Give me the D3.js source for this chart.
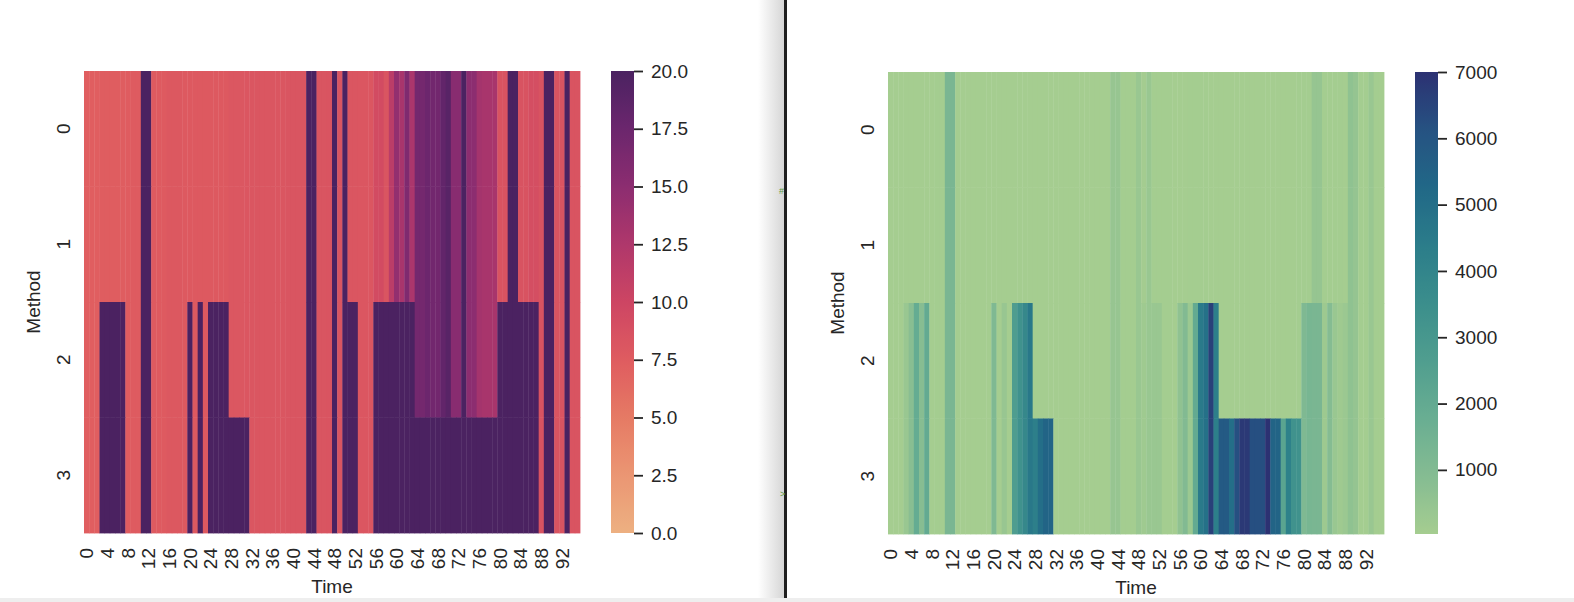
<!DOCTYPE html>
<html>
<head>
<meta charset="utf-8">
<script src="https://cdn.jsdelivr.net/npm/d3@7"></script>
<style>
  body { margin: 0; background: #fff; }
  svg { display: block; font-family: "Liberation Sans", Arial, sans-serif; }
</style>
</head>
<body>
<svg id="chart" width="1574" height="602"></svg>
<script>
// categories
var times = d3.range(96);
var methods = [0, 1, 2, 3];
var timeTicks = [0, 4, 8, 12, 16, 20, 24, 28, 32, 36, 40, 44, 48, 52, 56, 60, 64, 68, 72, 76, 80, 84, 88, 92];

// left heatmap values (one array per method)
var leftM0 = [7.3,7.3,7.3,7.4,7.4,7.4,7.4,7.4,7.5,7.6,7.6,20,20,7.7,7.7,7.7,
  7.9,7.9,7.9,7.8,7.8,7.8,7.8,7.8,7.8,7.8,7.8,7.8,8.0,8.0,8.0,8.1,
  8.2,8.2,8.2,8.2,8.2,8.2,8.2,8.3,8.3,8.3,8.3,20,20,8.3,8.3,8.4,
  20,8.3,20,8.2,8.2,8.1,8.1,8.1,9.3,9.3,8.3,11.5,14.5,13.0,16.0,12.8,
  16.8,16.8,17.4,17.0,17.0,18.2,19.0,15.3,15.3,20,15.0,15.0,13.3,13.0,13.0,13.0,
  8.5,8.5,20,20,8.5,8.5,9.0,9.0,8.5,20,20,8.4,8.4,20,8.4,8.4];
var leftM1 = [7.3,7.3,7.3,7.4,7.4,7.4,7.4,7.4,7.5,7.6,7.6,20,20,7.7,7.7,7.7,
  7.9,7.9,7.9,7.8,7.8,7.8,7.8,7.8,7.8,7.8,7.8,7.8,8.0,8.0,8.0,8.1,
  8.2,8.2,8.2,8.2,8.2,8.2,8.2,8.3,8.3,8.3,8.3,20,20,8.3,8.3,8.4,
  20,8.3,20,8.2,8.2,8.1,8.1,8.1,9.3,9.3,8.3,11.5,14.5,13.0,16.0,12.8,
  16.8,16.8,17.4,17.0,17.0,18.2,19.0,15.3,15.3,20,15.0,15.0,13.3,13.0,13.0,13.0,
  8.5,8.5,20,20,8.5,8.5,9.0,9.0,8.5,20,20,8.4,8.4,20,8.4,8.4];
var leftM2 = [7.3,7.3,7.3,20,20,20,20,20,7.5,7.6,7.6,20,20,7.7,7.7,7.7,
  7.9,7.9,7.9,7.8,20,7.8,20,7.8,20,20,20,20,8.0,8.0,8.0,8.1,
  8.2,8.2,8.2,8.2,8.2,8.2,8.2,8.3,8.3,8.3,8.3,20,20,8.3,8.3,8.4,
  20,8.3,20,20,20,8.1,8.1,8.1,20,20,20,20,20,20,20,20,
  16.8,16.8,17.4,17.0,17.0,18.2,19.0,15.3,15.3,20,15.0,15.0,13.3,13.0,13.0,13.0,
  20,20,20,20,20,20,20,20,8.5,20,20,8.4,8.4,20,8.4,8.4];
var leftM3 = [7.3,7.3,7.3,20,20,20,20,20,7.5,7.6,7.6,20,20,7.7,7.7,7.7,
  7.9,7.9,7.9,7.8,20,7.8,20,7.8,20,20,20,20,20,20,20,20,
  8.2,8.2,8.2,8.2,8.2,8.2,8.2,8.3,8.3,8.3,8.3,20,20,8.3,8.3,8.4,
  20,8.3,20,20,20,8.1,8.1,8.1,20,20,20,20,20,20,20,20,
  20,20,20,20,20,20,20,20,20,20,20,20,20,20,20,20,
  20,20,20,20,20,20,20,20,8.5,20,20,8.4,8.4,20,8.4,8.4];

// right heatmap values (one array per method)
var rightM0 = [45,42,40,38,40,42,40,38,45,48,50,1250,1250,44,40,38,
  36,35,37,40,42,40,38,40,42,45,44,40,38,36,35,33,
  36,38,40,42,44,40,38,36,38,40,42,420,420,50,48,50,
  350,60,350,55,52,50,48,45,44,46,48,50,52,48,46,44,
  42,40,38,40,42,44,46,44,42,40,38,40,42,44,46,48,
  50,52,450,450,55,52,50,48,46,620,480,50,52,350,48,46];
var rightM1 = [45,42,40,38,40,42,40,38,45,48,50,1250,1250,44,40,38,
  36,35,37,40,42,40,38,40,42,45,44,40,38,36,35,33,
  36,38,40,42,44,40,38,36,38,40,42,420,420,50,48,50,
  350,60,350,55,52,50,48,45,44,46,48,50,52,48,46,44,
  42,40,38,40,42,44,46,44,42,40,38,40,42,44,46,48,
  50,52,450,450,55,52,50,48,46,620,480,50,52,350,48,46];
var rightM2 = [45,42,40,350,800,1900,850,2000,45,48,50,1250,1250,44,40,38,
  36,35,37,40,1100,40,380,40,2700,3300,3800,4600,38,36,35,33,
  36,38,40,42,44,40,38,36,38,40,42,420,420,50,48,50,
  350,200,350,350,350,50,48,45,600,1000,300,2000,4500,4900,6600,4300,
  42,40,38,40,42,44,46,44,42,40,38,40,42,44,46,48,
  1100,1300,1250,1250,250,900,350,200,300,620,480,50,52,350,48,46];
var rightM3 = [45,42,40,350,800,1900,850,2000,45,48,50,1250,1250,44,40,38,
  36,35,37,40,1100,40,380,40,2700,3300,3800,4600,4300,5000,5400,5400,
  36,38,40,42,44,40,38,36,38,40,42,420,420,50,48,50,
  350,200,350,350,350,50,48,45,600,1000,300,2000,4500,4900,6600,4300,
  5800,5800,5000,6200,6800,6800,6200,6200,6200,7000,5400,5400,2300,4200,3300,3300,
  1100,1300,1250,1250,250,900,350,200,300,620,480,50,52,350,48,46];

// colour bar ticks
var leftBarTicks = [0, 2.5, 5, 7.5, 10, 12.5, 15, 17.5, 20];
var rightBarTicks = [1000, 2000, 3000, 4000, 5000, 6000, 7000];

// colormaps (seaborn flare / crest, approximated)
var flareColors = ["#edb081", "#eb9673", "#e67a64", "#df5c60", "#cd4563", "#af376b", "#8c2d70", "#6b266d", "#4b2261"];
var crestColors = ["#a5cd90", "#85bc92", "#69ae92", "#509e8f", "#3b8e8c", "#2b7d8a", "#216887", "#265282", "#2c3172"];

var hmW = 496, hmH = 462;
var textColor = "#262626";
var fontSize = "19px";

var svg = d3.select("#chart");

// screenshot background bits: shadow, separator, bottom strip
var defs = svg.append("defs");
var shade = defs.append("linearGradient").attr("id", "shade")
  .attr("x1", "0%").attr("x2", "100%");
shade.append("stop").attr("offset", "0%").attr("stop-color", "#ffffff");
shade.append("stop").attr("offset", "100%").attr("stop-color", "#d6d6d6");
svg.append("rect").attr("x", 758).attr("y", 0).attr("width", 26).attr("height", 602)
  .attr("fill", "url(#shade)");
svg.append("rect").attr("x", 784).attr("y", 0).attr("width", 3).attr("height", 602)
  .attr("fill", "#1f1f1f");
svg.append("rect").attr("x", 0).attr("y", 598).attr("width", 1574).attr("height", 4)
  .attr("fill", "#eeeeee");
svg.append("text").attr("x", 779).attr("y", 194).text("#")
  .style("font-size", "9px").style("fill", "#5f9a45");
svg.append("text").attr("x", 780).attr("y", 497).text(">")
  .style("font-size", "9px").style("fill", "#5f9a45");

function colorScale(colors, lo, hi) {
  var dom = colors.map(function (c, i) { return lo + (hi - lo) * i / (colors.length - 1); });
  return d3.scaleLinear().domain(dom).range(colors).interpolate(d3.interpolateRgb).clamp(true);
}

function drawPanel(opts) {
  var g = svg.append("g")
    .attr("transform", "translate(" + opts.left + "," + opts.top + ")");

  var x = d3.scaleBand().domain(times).range([0, hmW]);
  var y = d3.scaleBand().domain(methods).range([0, hmH]);
  var color = colorScale(opts.colors, opts.vmin, opts.vmax);

  opts.rows.forEach(function (vals, r) {
    g.append("g").selectAll("rect")
      .data(vals)
      .enter()
      .append("rect")
      .attr("x", function (d, i) { return x(i); })
      .attr("y", y(methods[r]))
      .attr("width", x.bandwidth() + 0.4)
      .attr("height", y.bandwidth() + 0.4)
      .style("fill", function (d) { return color(d); });
  });

  // x axis
  var xAxis = g.append("g")
    .attr("transform", "translate(0," + hmH + ")")
    .call(d3.axisBottom(x).tickValues(timeTicks).tickSize(0));
  xAxis.select(".domain").remove();
  xAxis.selectAll("text")
    .attr("x", -15).attr("y", 0).attr("dy", "0.35em")
    .attr("transform", "rotate(-90)")
    .style("text-anchor", "end")
    .style("font-size", fontSize)
    .style("font-family", "Liberation Sans, Arial, sans-serif")
    .style("fill", textColor);

  // y axis
  var yAxis = g.append("g")
    .call(d3.axisLeft(y).tickSize(0));
  yAxis.select(".domain").remove();
  yAxis.selectAll("text")
    .attr("x", 0).attr("y", -14).attr("dy", 0)
    .attr("transform", "rotate(-90)")
    .style("text-anchor", "middle")
    .style("font-size", fontSize)
    .style("font-family", "Liberation Sans, Arial, sans-serif")
    .style("fill", textColor);

  g.append("text")
    .attr("x", hmW / 2).attr("y", hmH + 60)
    .attr("text-anchor", "middle")
    .text("Time")
    .style("font-size", fontSize)
    .style("fill", textColor);

  g.append("text")
    .attr("transform", "translate(-44," + (hmH / 2) + ") rotate(-90)")
    .attr("text-anchor", "middle")
    .text("Method")
    .style("font-size", fontSize)
    .style("fill", textColor);

  // colour bar
  var gradId = "grad" + opts.id;
  var grad = defs.append("linearGradient").attr("id", gradId)
    .attr("x1", "0%").attr("y1", "100%").attr("x2", "0%").attr("y2", "0%");
  d3.range(0, 1.0001, 0.02).forEach(function (t) {
    grad.append("stop").attr("offset", (t * 100) + "%")
      .attr("stop-color", color(opts.vmin + t * (opts.vmax - opts.vmin)));
  });

  var cb = svg.append("g")
    .attr("transform", "translate(" + (opts.left + 527) + "," + opts.top + ")");
  cb.append("rect").attr("width", 23).attr("height", hmH)
    .attr("fill", "url(#" + gradId + ")");

  var cbScale = d3.scaleLinear().domain([opts.vmin, opts.vmax]).range([hmH, 0]);
  var cbAxis = cb.append("g")
    .attr("transform", "translate(23,0)")
    .call(d3.axisRight(cbScale).tickValues(opts.ticks).tickSize(9).tickPadding(8)
      .tickFormat(d3.format(opts.fmt)));
  cbAxis.select(".domain").remove();
  cbAxis.selectAll("line").style("stroke", textColor).style("stroke-width", 1.8);
  cbAxis.selectAll("text")
    .style("font-size", fontSize)
    .style("font-family", "Liberation Sans, Arial, sans-serif")
    .style("fill", textColor);
}

var allRight = rightM0.concat(rightM1, rightM2, rightM3);

drawPanel({ id: "L", left: 84, top: 71, rows: [leftM0, leftM1, leftM2, leftM3],
  colors: flareColors, vmin: 0, vmax: 20, ticks: leftBarTicks, fmt: ".1f" });
drawPanel({ id: "R", left: 888, top: 72, rows: [rightM0, rightM1, rightM2, rightM3],
  colors: crestColors, vmin: d3.min(allRight), vmax: 7000, ticks: rightBarTicks, fmt: "d" });
</script>
</body>
</html>
